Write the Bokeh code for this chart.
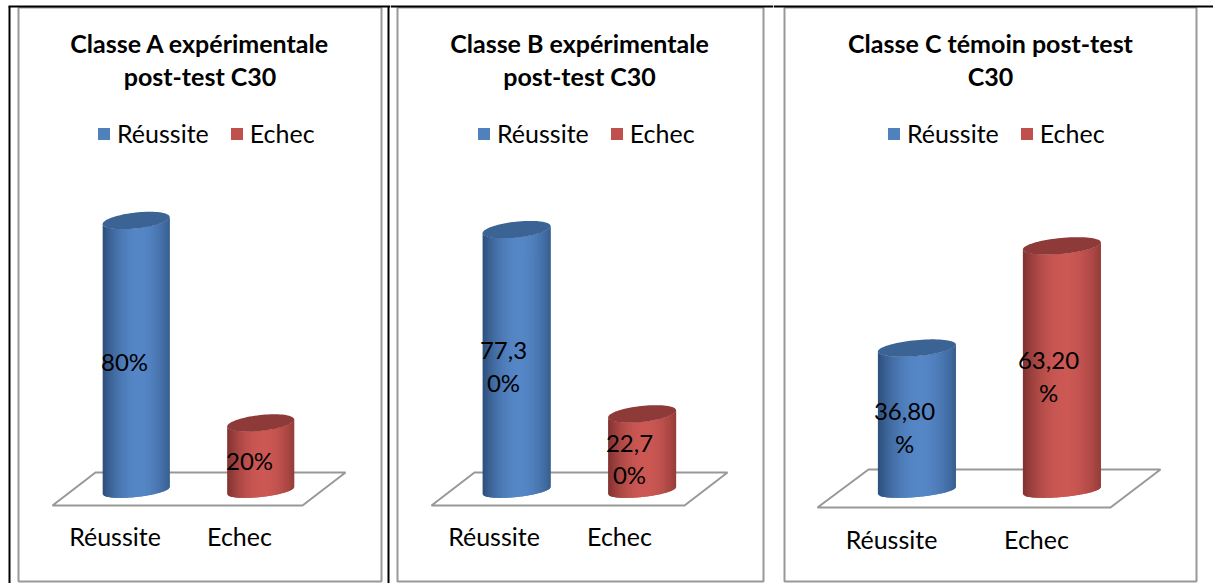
import numpy as np
from bokeh.core.properties import value
from bokeh.embed import file_html
from bokeh.layouts import row
from bokeh.models import FixedTicker, Legend, LegendItem, Range1d
from bokeh.plotting import figure
from bokeh.resources import INLINE

categories = ["Réussite", "Echec"]
titles_a = ["Classe A expérimentale", "post-test C30"]
titles_b = ["Classe B expérimentale", "post-test C30"]
titles_c = ["Classe C témoin post-test", "C30"]
values_a = [80, 20]
values_b = [77.3, 22.7]
values_c = [36.8, 63.2]
labels_a = [["80%"], ["20%"]]
labels_b = [["77,3", "0%"], ["22,7", "0%"]]
labels_c = [["36,80", "%"], ["63,20", "%"]]

BLUE = ((44, 78, 122), (85, 134, 198), "#3b6494", "#4f81bd")
RED = ((128, 50, 48), (204, 88, 84), "#8e3a39", "#c0504d")
FONT = "Lato"
GREY = "#989898"


def mix(a, b, t):
    return "#%02x%02x%02x" % tuple(int(round(a[i] + (b[i] - a[i]) * t)) for i in range(3))


def chart(cfg):
    x0, x1 = cfg["span"]
    l1, l2 = cfg["ticks"]
    k = cfg["k"]
    X = lambda px: (np.asarray(px, float) - l1) / (l2 - l1)
    Y = lambda py: (490 - np.asarray(py, float)) / k
    p = figure(width=x1 - x0, height=583, output_backend="svg", toolbar_location=None,
               x_range=Range1d(float(X(x0)), float(X(x1))), y_range=Range1d(float(Y(583)), float(Y(0))),
               min_border=0, outline_line_color=None)
    p.grid.visible = False
    p.yaxis.visible = False
    ax = p.xaxis[0]
    ax.fixed_location = float(Y(cfg["floor"][0][1]))
    ax.ticker = FixedTicker(ticks=[0, 1])
    ax.major_label_overrides = {0: categories[0], 1: categories[1]}
    ax.axis_line_color = None
    ax.major_tick_line_color = None
    ax.minor_tick_line_color = None
    ax.major_label_standoff = cfg["standoff"]
    ax.major_label_text_font = FONT
    ax.major_label_text_font_size = "25px"
    ax.major_label_text_color = "#000000"

    # chart frame and table rules
    fl, fr, ft, fb = cfg["frame"]
    p.line(X([fl, fr, fr, fl, fl]), Y([ft, ft, fb, fb, ft]), line_color=GREY, line_width=2)
    for bx in cfg["black"]:
        p.line(X([bx, bx]), Y([6, 583]), line_color="#000000", line_width=2)
    p.line(X(cfg["top"]), Y([6, 6]), line_color="#000000", line_width=2)

    # floor
    pts = cfg["floor"]
    p.patch(X([q[0] for q in pts]), Y([q[1] for q in pts]), fill_color="#ffffff",
            line_color=GREY, line_width=2)

    # cylinders
    a = cfg["bar_w"] / 2
    off = cfg["bar_off"]
    for i, v in enumerate(cfg["values"]):
        dark, light, cap, _ = (BLUE, RED)[i]
        cx = l1 + (l2 - l1) * (i + off)
        top_px = 490 - v * k
        edges = np.linspace(-1, 1, 41)
        xs, ys, cols = [], [], []
        for u0, u1 in zip(edges[:-1], edges[1:]):
            u = (u0 + u1) / 2
            # each strip runs on under the next one, so no seams show
            uu = np.linspace(u0, min(u1 + 2.0 / a, 1.0), 5)
            low = lambda c, b: c - 3.5 * uu + b * np.sqrt(np.clip(1 - uu ** 2, 0, 1))
            px = cx + a * uu
            xs.append(X(np.r_[px, px[::-1]]))
            ys.append(Y(np.r_[low(top_px, 8), low(490, 6.5)[::-1]]))
            cols.append(mix(dark, light, 1 - min(abs(u - 0.08) / 1.08, 1) ** 2.0))
        p.patches(xs, ys, fill_color=cols, line_color=None)
        tt = np.linspace(0, 2 * np.pi, 80)
        p.patch(X(cx + a * np.cos(tt)), Y(top_px - 3.5 * np.cos(tt) + 8 * np.sin(tt)),
                fill_color=cap, line_color=None)

    # value labels
    for (lx, lys), lines in zip(cfg["label_pos"], cfg["labels"]):
        p.text(X([lx] * len(lines)), Y(lys), text=lines, text_align="center", text_baseline="middle",
               text_font=value(FONT), text_font_size="24px", text_color="#000000")

    # title
    for ty, t in zip((42, 75), cfg["title"]):
        p.text(X([cfg["title_x"]]), Y([ty]), text=[t], text_align="center", text_baseline="middle",
               text_font=value(FONT), text_font_style="bold", text_font_size="25px", text_color="#000000")

    # legend
    nan = float("nan")
    r0 = p.quad(left=[nan], right=[nan], top=[nan], bottom=[nan], fill_color=BLUE[3], line_color=None)
    r1 = p.quad(left=[nan], right=[nan], top=[nan], bottom=[nan], fill_color=RED[3], line_color=None)
    leg = Legend(items=[LegendItem(label=categories[0], renderers=[r0]),
                        LegendItem(label=categories[1], renderers=[r1])],
                 orientation="horizontal", location=(cfg["legend_x"] - x0, 583 - 148),
                 background_fill_alpha=0, border_line_color=None, margin=0, padding=0,
                 glyph_width=15, glyph_height=15, label_standoff=6, spacing=20,
                 label_text_font=FONT, label_text_font_size="25px", label_text_color="#000000")
    p.add_layout(leg, "center")
    return p


charts = [
    dict(span=(0, 390), ticks=(114.5, 239), k=3.375, values=values_a, labels=labels_a, title=titles_a,
         title_x=199.5, frame=(18, 381, 7, 581), black=(9, 388), top=(8, 390), bar_w=67, bar_off=0.17,
         floor=[(52, 505), (302, 505), (345, 472), (95, 472)], standoff=9, legend_x=96,
         label_pos=[(124, [361]), (249, [460])]),
    dict(span=(390, 773), ticks=(493.5, 619), k=3.375, values=values_b, labels=labels_b, title=titles_b,
         title_x=579, frame=(397, 763, 7, 581), black=(), top=(390, 773), bar_w=68, bar_off=0.18,
         floor=[(431, 505), (684, 505), (727, 472), (474, 472)], standoff=9, legend_x=476,
         label_pos=[(503, [350, 382]), (629, [443, 474])]),
    dict(span=(773, 1213), ticks=(891, 1036), k=3.87, values=values_c, labels=labels_c, title=titles_c,
         title_x=990, frame=(784, 1196, 7, 581), black=(), top=(773, 1213), bar_w=78, bar_off=0.175,
         floor=[(817, 507), (1110, 507), (1160, 469), (868, 469)], standoff=10, legend_x=886,
         label_pos=[(904, [411, 443]), (1048, [360, 392])]),
]

page = row(*[chart(c) for c in charts], spacing=0)
open("out.html", "w").write(file_html(page, INLINE))
